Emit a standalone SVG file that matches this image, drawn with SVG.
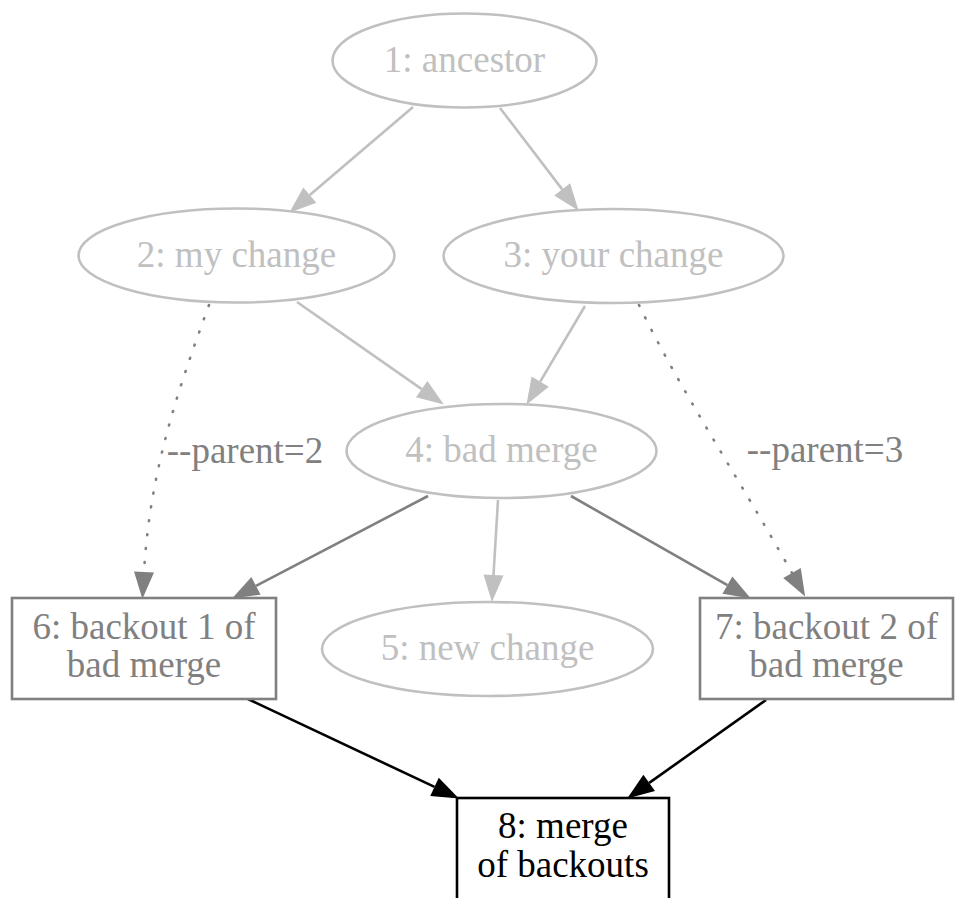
<svg xmlns="http://www.w3.org/2000/svg" width="955" height="898" viewBox="0 0 955 898">
<style>
text{font-family:"Liberation Serif","Times New Roman",serif;font-size:37px;text-anchor:middle}
.lt{fill:#c0c0c0}
.gt{fill:#808080}
.bt{fill:#000}
.ln{fill:#fff;stroke:#c0c0c0;stroke-width:2.6}
.gn{fill:#fff;stroke:#808080;stroke-width:2.6}
.bn{fill:#fff;stroke:#000;stroke-width:2.6}
.e{fill:none;stroke-width:2.6}
.el{stroke:#c0c0c0;marker-end:url(#al)}
.eg{stroke:#808080;marker-end:url(#ag)}
.eb{stroke:#000;marker-end:url(#ab)}
.dot{stroke-dasharray:1 13;stroke-linecap:round}
</style>
<defs>
<marker id="al" markerUnits="userSpaceOnUse" markerWidth="28" markerHeight="22" refX="0" refY="10" orient="auto" overflow="visible"><path d="M0,0 L27,10 L0,20 z" fill="#c0c0c0"/></marker>
<marker id="ag" markerUnits="userSpaceOnUse" markerWidth="28" markerHeight="22" refX="0" refY="10" orient="auto" overflow="visible"><path d="M0,0 L27,10 L0,20 z" fill="#808080"/></marker>
<marker id="ab" markerUnits="userSpaceOnUse" markerWidth="28" markerHeight="22" refX="0" refY="10" orient="auto" overflow="visible"><path d="M0,0 L27,10 L0,20 z" fill="#000"/></marker>
</defs>
<rect width="955" height="898" fill="#fff"/>
<g id="edges">
<path class="e el" d="M413,107 L309.8,195.1"/>
<path class="e el" d="M500,108 L562.2,189.4"/>
<path class="e el" d="M297,302 L421.7,389.1"/>
<path class="e el" d="M585,306 L540.2,381.6"/>
<path class="e el" d="M498,500 L493.5,575"/>
<path class="e eg" d="M428,496 L256,585.9"/>
<path class="e eg" d="M571,496 L727.4,585.1"/>
<path class="e eg dot" d="M209,305 C178,390 150,470 144,572"/>
<text class="gt" x="245" y="463">--parent=2</text>
<path class="e eg dot" d="M639,305 C680,390 740,480 792,573"/>
<text class="gt" x="825" y="462">--parent=3</text>
<path class="e eb" d="M248,699 L434.5,786.9"/>
<path class="e eb" d="M766,700 L649.2,782.9"/>
</g>
<g id="n1"><ellipse class="ln" cx="464.5" cy="60.5" rx="132" ry="47"/><text class="lt" x="464.5" y="72">1: ancestor</text></g>
<g id="n2"><ellipse class="ln" cx="236.5" cy="255.5" rx="158" ry="47"/><text class="lt" x="236.5" y="267">2: my change</text></g>
<g id="n3"><ellipse class="ln" cx="613.5" cy="256" rx="170" ry="47"/><text class="lt" x="613.5" y="267">3: your change</text></g>
<g id="n4"><ellipse class="ln" cx="501.5" cy="451" rx="155" ry="47"/><text class="lt" x="501.5" y="462">4: bad merge</text></g>
<g id="n5"><ellipse class="ln" cx="487.5" cy="649" rx="165.5" ry="47"/><text class="lt" x="487.5" y="660">5: new change</text></g>
<g id="n6"><rect class="gn" x="12" y="598" width="264" height="101"/><text class="gt" x="144" y="639">6: backout 1 of</text><text class="gt" x="144" y="677">bad merge</text></g>
<g id="n7"><rect class="gn" x="700" y="598" width="253" height="101"/><text class="gt" x="826.5" y="639">7: backout 2 of</text><text class="gt" x="826.5" y="677">bad merge</text></g>
<g id="n8"><rect class="bn" x="457" y="798" width="212" height="102"/><text class="bt" x="563" y="838">8: merge</text><text class="bt" x="563" y="877">of backouts</text></g>
</svg>
